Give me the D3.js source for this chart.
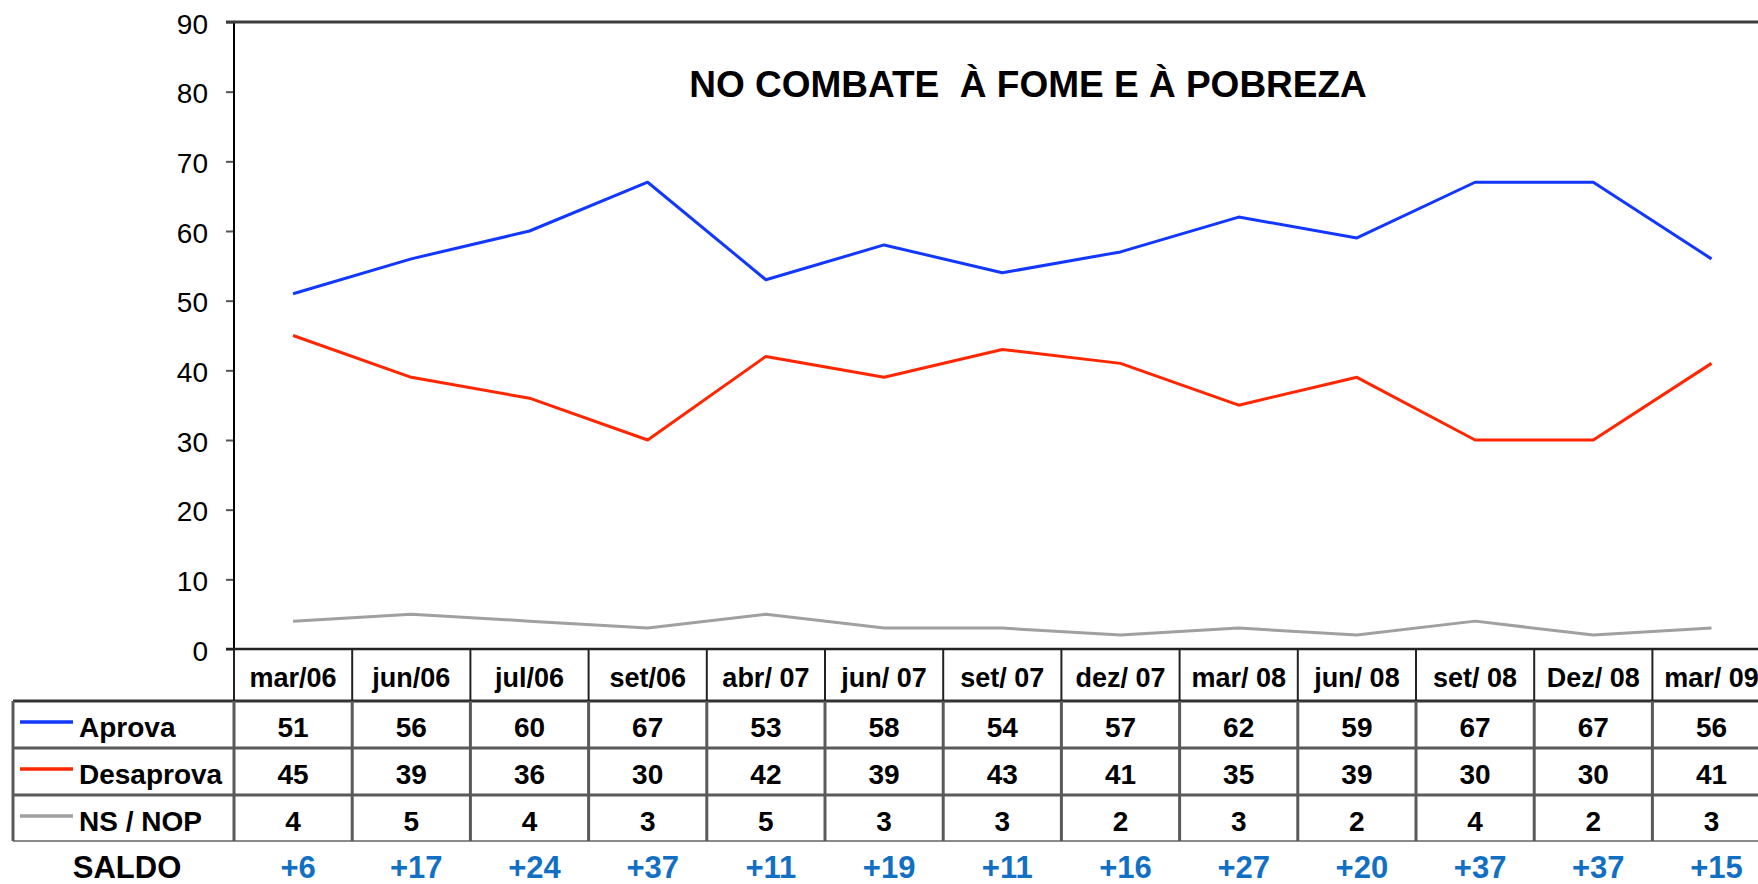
<!DOCTYPE html>
<html>
<head>
<meta charset="utf-8">
<script src="https://cdn.jsdelivr.net/npm/d3@7"></script>
<style>
  html, body { margin: 0; padding: 0; background: #fff; overflow: hidden; }
  svg { display: block; font-family: Arial, "Liberation Sans", sans-serif; }
</style>
</head>
<body>
<svg id="chart" width="1758" height="884"></svg>
<script>
// data
var categories = ['mar/06', 'jun/06', 'jul/06', 'set/06', 'abr/ 07', 'jun/ 07', 'set/ 07',
                  'dez/ 07', 'mar/ 08', 'jun/ 08', 'set/ 08', 'Dez/ 08', 'mar/ 09'];
var aprova    = [51, 56, 60, 67, 53, 58, 54, 57, 62, 59, 67, 67, 56];
var desaprova = [45, 39, 36, 30, 42, 39, 43, 41, 35, 39, 30, 30, 41];
var nsnop     = [4, 5, 4, 3, 5, 3, 3, 2, 3, 2, 4, 2, 3];
var saldo     = ['+6', '+17', '+24', '+37', '+11', '+19', '+11', '+16', '+27', '+20', '+37', '+37', '+15'];
var yTicks    = [0, 10, 20, 30, 40, 50, 60, 70, 80, 90];

var series = [
    { name: 'Aprova',    values: aprova,    color: '#1238ff' },
    { name: 'Desaprova', values: desaprova, color: '#ff2600' },
    { name: 'NS / NOP',  values: nsnop,     color: '#a0a0a0' }
];

var svg = d3.select('#chart');
var W = 1758;

var left = 234, colW = 118.2;
var x = d3.scaleBand().domain(categories).range([left, left + colW*categories.length]);
var y = d3.scaleLinear().domain([0, 90]).range([649, 22]);

// table geometry
var headTop = 649, headBot = 701;
var rowLines = [701, 748, 795, 841];
var tableLeft = 13;

/* ---- y axis ---- */
var yAxis = d3.axisLeft(y).tickValues(yTicks).tickSize(8).tickPadding(0).tickFormat(d3.format('d'));
var gy = svg.append('g').attr('transform', 'translate(' + left + ',0)').call(yAxis);
gy.select('.domain').remove();
gy.selectAll('.tick line').attr('stroke', '#555').attr('stroke-width', 2);
gy.selectAll('.tick text')
    .attr('x', -26).attr('dy', '0.4em')
    .attr('fill', '#000').style('font-size', '28px').style('font-family', 'Arial, "Liberation Sans", sans-serif');
svg.append('line')
    .attr('x1', left).attr('x2', left).attr('y1', y(90)).attr('y2', y(0))
    .attr('stroke', '#000').attr('stroke-width', 2);
// top line at 90
svg.append('line')
    .attr('x1', left - 8).attr('x2', W).attr('y1', y(90)).attr('y2', y(90))
    .attr('stroke', '#3c3c3c').attr('stroke-width', 3);

/* ---- title ---- */
svg.append('text')
    .attr('x', 1028).attr('y', 97)
    .attr('text-anchor', 'middle')
    .style('font-size', '37px').style('font-weight', 'bold')
    .style('white-space', 'pre')
    .text('NO COMBATE  \u00C0 FOME E \u00C0 POBREZA');

/* ---- lines ---- */
var line = d3.line()
    .x(function(d, i){ return x(categories[i]) + x.bandwidth()/2; })
    .y(function(d){ return y(d); });

series.slice().reverse().forEach(function(s){
    svg.append('path')
        .datum(s.values)
        .attr('d', line)
        .attr('fill', 'none')
        .attr('stroke', s.color)
        .attr('stroke-width', 3)
        .attr('stroke-linejoin', 'round');
});

/* ---- data table ---- */
var tbl = svg.append('g');
var gridCol = '#5a5a5a';

// header row
tbl.append('line').attr('x1', left - 8).attr('x2', W).attr('y1', headTop).attr('y2', headTop)
    .attr('stroke', '#222').attr('stroke-width', 2.5);
categories.forEach(function(c){
    tbl.append('text')
        .attr('x', x(c) + x.bandwidth()/2).attr('y', 687)
        .attr('text-anchor', 'middle')
        .style('font-size', '27px').style('font-weight', 'bold')
        .text(c);
});

// horizontal lines of the body
rowLines.forEach(function(yy, i){
    tbl.append('line')
        .attr('x1', tableLeft).attr('x2', W)
        .attr('y1', yy).attr('y2', yy)
        .attr('stroke', i == 3 ? '#8a8a8a' : (i == 0 ? '#333' : gridCol))
        .attr('stroke-width', i == 3 ? 2 : 3);
});
var bodyBot = rowLines[3];

// vertical lines
tbl.append('line').attr('x1', tableLeft).attr('x2', tableLeft).attr('y1', headBot).attr('y2', bodyBot)
    .attr('stroke', gridCol).attr('stroke-width', 3);
categories.forEach(function(c, i){
    var xx = x(c);
    tbl.append('line').attr('x1', xx).attr('x2', xx).attr('y1', headTop).attr('y2', headBot)
        .attr('stroke', '#222').attr('stroke-width', 2);
    tbl.append('line').attr('x1', xx).attr('x2', xx).attr('y1', headBot).attr('y2', bodyBot)
        .attr('stroke', gridCol).attr('stroke-width', 3);
});
var lastEdge = x(categories[categories.length-1]) + x.bandwidth();
tbl.append('line').attr('x1', lastEdge).attr('x2', lastEdge).attr('y1', headTop).attr('y2', bodyBot)
    .attr('stroke', gridCol).attr('stroke-width', 3);

// rows
var baselines = [737, 784, 831];
series.forEach(function(s, r){
    var by = baselines[r];
    tbl.append('line')
        .attr('x1', 20).attr('x2', 73).attr('y1', by - 15).attr('y2', by - 15)
        .attr('stroke', s.color).attr('stroke-width', 3.5);
    tbl.append('text')
        .attr('x', 79).attr('y', by)
        .style('font-size', '28px').style('font-weight', 'bold')
        .text(s.name);
    s.values.forEach(function(v, i){
        tbl.append('text')
            .attr('x', x(categories[i]) + x.bandwidth()/2).attr('y', by)
            .attr('text-anchor', 'middle')
            .style('font-size', '28px').style('font-weight', 'bold')
            .text(v);
    });
});

// saldo row
svg.append('text')
    .attr('x', 127).attr('y', 878)
    .attr('text-anchor', 'middle')
    .style('font-size', '31px').style('font-weight', 'bold')
    .text('SALDO');
saldo.forEach(function(v, i){
    svg.append('text')
        .attr('x', x(categories[i]) + x.bandwidth()/2 + 5).attr('y', 878)
        .attr('text-anchor', 'middle')
        .attr('fill', '#1170c4')
        .style('font-size', '31px').style('font-weight', 'bold')
        .text(v);
});
</script>
</body>
</html>
